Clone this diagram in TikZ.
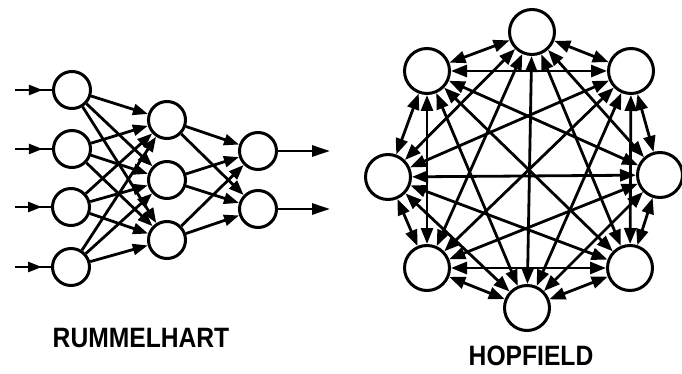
\documentclass[tikz,border=0pt]{standalone}
\usepackage{fontspec}
\setmainfont{Liberation Sans}
\usetikzlibrary{arrows.meta,decorations.markings}
\begin{document}
\begin{tikzpicture}[x=1pt,y=-1pt,
  neuron/.style={circle,draw=black,line width=3pt,fill=white,minimum size=37pt,inner sep=0pt},
  hneuron/.style={circle,draw=black,line width=3pt,fill=white,minimum size=45pt,inner sep=0pt},
  conn/.style={line width=2.8pt,-{Triangle[length=15pt,width=11pt]}},
  hconn/.style={line width=2.8pt,{Triangle[length=16pt,width=12pt]}-{Triangle[length=16pt,width=12pt]}},
  inarrow/.style={line width=2.8pt,postaction={decorate},decoration={markings,mark=at position 0.75 with {\arrow{Triangle[length=14pt,width=10pt]}}}},
  outarrow/.style={line width=2.8pt,-{Triangle[length=18pt,width=11pt]}},
  label/.style={font=\bfseries\fontsize{28}{28}\selectfont,xscale=0.88,inner sep=0pt}]
\useasboundingbox (0,0) rectangle (682,374);
% Rummelhart network
\node[neuron] (i1) at (72,90) {};
\node[neuron] (i2) at (72,149) {};
\node[neuron] (i3) at (71,207) {};
\node[neuron] (i4) at (71,267) {};
\node[neuron] (m1) at (167,120) {};
\node[neuron] (m2) at (167,180) {};
\node[neuron] (m3) at (167,240) {};
\node[neuron] (o1) at (258,151) {};
\node[neuron] (o2) at (258,209) {};
\coordinate (s1) at (15,90);
\coordinate (s2) at (15,149);
\coordinate (s3) at (15,207);
\coordinate (s4) at (15,267);
\coordinate (t1) at (330,151);
\coordinate (t2) at (330,209);
\foreach \i in {1,...,4} {\draw[inarrow] (s\i) -- (i\i);}
\foreach \i in {1,...,4} {\foreach \j in {1,2,3} {\draw[conn] (i\i) -- (m\j);}}
\foreach \j in {1,2,3} {\foreach \k in {1,2} {\draw[conn] (m\j) -- (o\k);}}
\draw[outarrow] (o1) -- (t1);
\draw[outarrow] (o2) -- (t2);
\node[label] (rl) at (141,338) {RUMMELHART};
% Hopfield network
\node[hneuron] (p1) at (532,32) {};
\node[hneuron] (p2) at (631,71) {};
\node[hneuron] (p3) at (660,175) {};
\node[hneuron] (p4) at (630,268) {};
\node[hneuron] (p5) at (527,308) {};
\node[hneuron] (p6) at (427,268) {};
\node[hneuron] (p7) at (388,177) {};
\node[hneuron] (p8) at (427,71) {};
\foreach \a [evaluate=\a as \s using int(\a+1)] in {1,...,7} {
  \foreach \b in {\s,...,8} {\draw[hconn] (p\a) -- (p\b);}
}
\node[label] (hl) at (531,356) {HOPFIELD};
\end{tikzpicture}
\end{document}
